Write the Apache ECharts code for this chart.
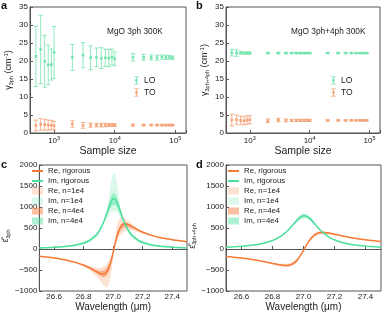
<!DOCTYPE html>
<html><head><meta charset="utf-8">
<script src="https://cdn.jsdelivr.net/npm/echarts@6/dist/echarts.min.js"></script>
<style>html,body{margin:0;padding:0;background:#fff}#c{width:388px;height:315px}</style>
</head><body><div id="c"></div>
<script>
// ---------- panels a, b : damping vs sample size ----------
const sampleSizes = [500,600,700,800,900,1000,2000,3000,4000,5000,6000,7000,8000,9000,10000,20000,30000,40000,50000,60000,70000,80000,90000];
const loMean3 = [21.3,23.2,19.9,18.9,19.0,22.4,21.0,21.6,20.9,21.0,20.8,20.9,20.8,21.1,20.6,21.0,21.0,21.0,20.9,21.1,21.0,21.0,20.9];
const loErr3  = [8.4,9.5,7.2,5.5,4.3,7.2,3.6,3.5,3.3,2.6,2.9,2.4,2.4,2.2,1.9,1.0,0.8,0.7,0.7,0.6,0.6,0.5,0.5];
const toMean3 = [2.1,2.4,2.3,2.2,2.2,2.0,2.5,2.1,2.2,2.2,2.2,2.2,2.2,2.2,2.2,2.2,2.2,2.2,2.2,2.2,2.2,2.2,2.2];
const toErr3  = [1.5,1.6,1.5,1.4,1.3,1.2,0.9,0.8,0.6,0.5,0.5,0.5,0.4,0.4,0.4,0.3,0.2,0.2,0.2,0.2,0.2,0.2,0.2];
const loMean34 = [22.3,22.2,22.3,22.2,22.2,22.2,22.2,22.2,22.2,22.2,22.2,22.2,22.2,22.2,22.2,22.2,22.2,22.2,22.2,22.2,22.2,22.2,22.2];
const loErr34  = [0.9,0.9,0.4,0.3,0.3,0.3,0.2,0.2,0.2,0.15,0.15,0.15,0.15,0.1,0.1,0.1,0.1,0.1,0.1,0.1,0.1,0.1,0.1];
const toMean34 = [3.6,3.7,3.5,3.4,3.6,3.7,3.4,3.6,3.5,3.5,3.5,3.5,3.5,3.5,3.5,3.5,3.5,3.5,3.5,3.5,3.5,3.5,3.5];
const toErr34  = [1.65,1.3,1.2,1.1,1.2,1.1,0.5,0.5,0.4,0.3,0.3,0.3,0.3,0.3,0.3,0.15,0.15,0.15,0.15,0.15,0.15,0.15,0.15];
const gammaTicks = [0,5,10,15,20,25,30,35];

// ---------- panels c, d : dielectric function vs wavelength ----------
const wavelength = [26.50,26.55,26.60,26.65,26.70,26.75,26.80,26.84,26.88,26.90,26.92,26.94,26.96,26.98,26.99,27.00,27.01,27.02,27.03,27.05,27.07,27.09,27.11,27.13,27.17,27.21,27.26,27.31,27.36,27.41,27.46,27.50];
const wlTicks = [26.6,26.8,27.0,27.2,27.4];
// panel c (3ph)
const reRig3 = [-174,-193,-215,-243,-278,-325,-388,-451,-529,-568,-595,-594,-529,-360,-231,-80,80,231,360,529,594,595,568,529,451,388,325,278,243,215,193,174];
const imRig3 = [26,32,40,51,69,96,142,205,318,405,525,685,882,1080,1154,1195,1195,1154,1080,882,685,525,405,318,205,142,96,69,51,40,32,26];
const re3Lo1 = [-177,-196,-219,-249,-288,-340,-415,-501,-624,-704,-795,-883,-915,-744,-514,-186,45,132,212,337,411,444,450,439,399,355,306,266,235,210,189,172];
const re3Hi1 = [-172,-189,-210,-235,-266,-306,-355,-399,-439,-450,-444,-411,-337,-212,-132,-45,170,450,640,770,760,710,650,590,485,410,338,287,248,219,196,177];
const im3Lo1 = [17,21,27,34,46,65,99,149,245,329,458,633,748,847,880,898,898,880,847,748,633,458,329,245,149,99,65,46,34,27,21,17];
const im3Hi1 = [34,42,52,66,87,120,173,242,351,428,523,666,996,1457,1679,1818,1818,1679,1457,996,666,523,428,351,242,173,120,87,66,52,42,34];
const re3Lo2 = [-175,-194,-216,-245,-282,-330,-397,-468,-559,-609,-653,-671,-622,-440,-286,-100,61,178,282,432,506,525,515,490,430,374,317,274,240,213,191,173];
const re3Hi2 = [-173,-191,-213,-240,-274,-317,-374,-430,-490,-515,-525,-506,-432,-282,-178,-61,95,270,410,580,635,630,595,550,463,395,329,281,245,216,194,175];
const im3Lo2 = [23,29,36,46,62,87,130,190,300,389,515,667,823,968,1019,1047,1047,1019,968,823,667,515,389,300,190,130,87,62,46,36,29,23];
const im3Hi2 = [29,36,45,58,77,107,156,223,336,420,529,692,926,1179,1279,1336,1336,1279,1179,926,692,529,420,336,223,156,107,77,58,45,36,29];
// panel d (3ph+4ph)
const reRig34 = [-178,-195,-215,-240,-269,-304,-344,-376,-395,-392,-373,-331,-260,-158,-97,-33,33,97,158,260,331,373,392,395,376,344,304,269,240,215,195,178];
const imRig34 = [42,51,64,81,106,143,202,273,379,447,526,611,693,757,778,789,789,778,757,693,611,526,447,379,273,202,143,106,81,64,51,42];
const re34Lo1 = [-179,-197,-218,-244,-275,-313,-359,-398,-427,-430,-417,-378,-302,-186,-115,-39,27,79,129,215,280,322,345,354,347,325,292,261,234,211,192,176];
const re34Hi1 = [-176,-192,-211,-234,-261,-292,-325,-347,-354,-345,-322,-280,-215,-129,-79,-27,39,115,186,302,378,417,430,427,398,359,313,275,244,218,197,179];
const im34Lo1 = [39,48,59,76,99,135,193,265,376,439,505,574,638,686,701,709,709,701,686,638,574,505,439,376,265,193,135,99,76,59,48,39];
const im34Hi1 = [46,56,70,88,114,153,212,281,378,451,540,639,738,820,846,860,860,846,820,738,639,540,451,378,281,212,153,114,88,70,56,46];
const re34Lo2 = [-178,-196,-216,-241,-272,-308,-351,-385,-409,-408,-391,-350,-277,-169,-105,-35,30,89,145,240,308,350,371,377,364,336,299,266,237,214,194,177];
const re34Hi2 = [-177,-194,-214,-237,-266,-299,-336,-364,-377,-371,-350,-308,-240,-145,-89,-30,35,105,169,277,350,391,408,409,385,351,308,272,241,216,196,178];
const im34Lo2 = [41,50,62,79,103,140,198,270,378,444,518,595,669,726,744,754,754,744,726,669,595,518,444,378,270,198,140,103,79,62,50,41];
const im34Hi2 = [44,53,66,84,109,147,206,277,379,449,532,623,712,784,807,819,819,807,784,712,623,532,449,379,277,206,147,109,84,66,53,44];

// ---------- styling ----------
const FONT = '"Liberation Sans", Arial, sans-serif';
const ORANGE = '#F47A36', GREEN = '#4BDF9C';
const RE_L = 'rgba(246,124,58,0.22)', RE_D = 'rgba(246,124,58,0.48)';
const IM_L = 'rgba(75,223,156,0.20)', IM_D = 'rgba(75,223,156,0.45)';
const LO_C = '#72E3AC', TO_C = '#F5A276';
const FRAME = '#555';
const EB_ICON = 'path://M0,0H6V1H0Z M2.5,1H3.5V9H2.5Z M0,9H6V10H0Z M1.5,3.5H4.5V6.5H1.5Z';
const BLANK_SYM = 'image://data:image/gif;base64,R0lGODlhAQABAIAAAAAAAP///yH5BAEAAAAALAAAAAABAAEAAAIBRAA7';
const TXT = '#222';

const chart = echarts.init(document.getElementById('c'), null, {renderer: 'canvas'});

function isPow10(v) { const l = Math.log10(v); return Math.abs(l - Math.round(l)) < 1e-6; }

function logAxis(gi) {
  return {
    type: 'log', logBase: 10, gridIndex: gi, min: 400, max: 150000,
    name: 'Sample size', nameLocation: 'middle', nameGap: 8,
    nameTextStyle: {fontSize: 10.5, color: TXT, fontFamily: FONT, verticalAlign: 'top'},
    axisLine: {show: true, lineStyle: {color: FRAME, width: 1}},
    axisTick: {show: true, inside: true, length: 3, lineStyle: {color: FRAME}},
    minorTick: {show: false},
    splitLine: {show: false},
    axisLabel: {
      margin: 2, color: TXT, fontSize: 8, fontFamily: FONT,
      formatter: v => isPow10(v) ? '10{s|' + Math.round(Math.log10(v)) + '}' : '',
      rich: {s: {fontSize: 5.5, padding: [0, 0, 5, 0], fontFamily: FONT, color: TXT}}
    }
  };
}
function gammaAxis(gi, sub) {
  return {
    type: 'value', gridIndex: gi, min: 0, max: 35, interval: 5,
    name: '{g|γ}{s|' + sub + '} (cm{u|-1})', nameLocation: 'middle', nameGap: 16, nameRotate: 90,
    nameTextStyle: {fontSize: 9, color: TXT, fontFamily: FONT,
      rich: {g: {fontSize: 9, fontFamily: FONT, color: TXT},
             s: {fontSize: 5.5, padding: [5, 0, 0, 0], fontFamily: FONT, color: TXT},
             u: {fontSize: 6, padding: [0, 0, 5, 0], fontFamily: FONT, color: TXT}}},
    axisLine: {show: true, lineStyle: {color: FRAME, width: 1}},
    axisTick: {show: true, inside: true, length: 3, lineStyle: {color: FRAME}},
    splitLine: {show: false},
    axisLabel: {margin: 2, color: TXT, fontSize: 8, fontFamily: FONT, customValues: gammaTicks}
  };
}
function wlAxis(gi) {
  return {
    type: 'value', gridIndex: gi, min: 26.5, max: 27.5,
    name: 'Wavelength (μm)', nameLocation: 'middle', nameGap: 7,
    nameTextStyle: {fontSize: 10, color: TXT, fontFamily: FONT, verticalAlign: 'top'},
    axisLine: {show: true, lineStyle: {color: FRAME, width: 1}},
    axisTick: {show: true, inside: true, length: 3, lineStyle: {color: FRAME}, customValues: wlTicks},
    splitLine: {show: false},
    axisLabel: {margin: 2, color: TXT, fontSize: 8, fontFamily: FONT,
      customValues: wlTicks, formatter: v => v.toFixed(1)}
  };
}
function epsAxis(gi, sub, pad) {
  return {
    type: 'value', gridIndex: gi, min: -1000, max: 2000, interval: 500,
    name: '{e|ε̂}{s|' + sub + '}', nameLocation: 'middle', nameGap: 22, nameRotate: 90,
    nameTextStyle: {fontSize: 9, color: TXT, fontFamily: FONT, padding: [0, pad, 0, 0],
      rich: {e: {fontSize: 9, fontFamily: FONT, color: TXT},
             s: {fontSize: 5.5, padding: [5, 0, 0, 0], fontFamily: FONT, color: TXT}}},
    axisLine: {show: true, lineStyle: {color: FRAME, width: 1}},
    axisTick: {show: true, inside: true, length: 3, lineStyle: {color: FRAME}},
    splitLine: {show: false},
    axisLabel: {margin: 2, color: TXT, fontSize: 8, fontFamily: FONT,
      formatter: v => v < 0 ? '\u2212' + (-v) : String(v)}
  };
}

function errSeries(name, gi, mean, err, color) {
  return {
    type: 'custom', name: name, xAxisIndex: gi, yAxisIndex: gi,
    itemStyle: {color: color},
    data: sampleSizes.map((s, i) => [s, mean[i], mean[i] - err[i], mean[i] + err[i]]),
    encode: {x: 0, y: [1, 2, 3]},
    renderItem: function (params, api) {
      const x = api.value(0), m = api.value(1), lo = api.value(2), hi = api.value(3);
      const pm = api.coord([x, m]), pl = api.coord([x, lo]), ph = api.coord([x, hi]);
      const cw = 2.2;
      const st = {stroke: color, lineWidth: 0.8, fill: null};
      return {type: 'group', children: [
        {type: 'line', shape: {x1: pl[0], y1: pl[1], x2: ph[0], y2: ph[1]}, style: st},
        {type: 'line', shape: {x1: pl[0] - cw, y1: pl[1], x2: pl[0] + cw, y2: pl[1]}, style: st},
        {type: 'line', shape: {x1: ph[0] - cw, y1: ph[1], x2: ph[0] + cw, y2: ph[1]}, style: st},
        {type: 'rect', shape: {x: pm[0] - 1.3, y: pm[1] - 1.3, width: 2.6, height: 2.6}, style: {fill: color}}
      ]};
    }
  };
}
function bandSeries(name, gi, lo, hi, color) {
  return {
    type: 'custom', name: name, xAxisIndex: gi, yAxisIndex: gi, silent: true,
    itemStyle: {color: color},
    data: wavelength.map((x, i) => [x, lo[i], hi[i]]),
    encode: {x: 0, y: [1, 2]},
    renderItem: function (params, api) {
      if (params.dataIndex !== 0) return null;
      const pts = [];
      for (let i = 0; i < wavelength.length; i++) pts.push(api.coord([wavelength[i], hi[i]]));
      for (let i = wavelength.length - 1; i >= 0; i--) pts.push(api.coord([wavelength[i], lo[i]]));
      return {type: 'polygon', shape: {points: pts}, style: {fill: color, stroke: null}};
    }
  };
}
function lineSeries(name, gi, vals, color) {
  return {
    type: 'line', name: name, xAxisIndex: gi, yAxisIndex: gi,
    data: wavelength.map((x, i) => [x, vals[i]]),
    showSymbol: false, symbol: BLANK_SYM, symbolSize: 1, smooth: 0.25,
    lineStyle: {color: color, width: 1.5}, itemStyle: {color: color}
  };
}

const legendTxt = {fontSize: 7.8, color: TXT, fontFamily: FONT, lineHeight: 8};
const epsLegendData = [
  {name: 'Re, rigorous'}, {name: 'Im, rigorous'},
  {name: 'Re, n=1e4', icon: 'rect'}, {name: 'Im, n=1e4', icon: 'rect'},
  {name: 'Re, n=4e4', icon: 'rect'}, {name: 'Im, n=4e4', icon: 'rect'}
];
const gamLegendData = [{name: 'LO', icon: EB_ICON}, {name: 'TO', icon: EB_ICON}];

const gridBase = {show: true, borderColor: FRAME, borderWidth: 1, backgroundColor: 'transparent'};

const option = {
  animation: false,
  backgroundColor: '#fff',
  textStyle: {fontFamily: FONT},
  grid: [
    Object.assign({left: 30, top: 7, width: 156, height: 126}, gridBase),
    Object.assign({left: 226, top: 7, width: 154, height: 126}, gridBase),
    Object.assign({left: 30, top: 165, width: 157, height: 126}, gridBase),
    Object.assign({left: 226, top: 165, width: 155, height: 126}, gridBase)
  ],
  xAxis: [logAxis(0), logAxis(1), wlAxis(2), wlAxis(3)],
  yAxis: [gammaAxis(0, '3ph'), gammaAxis(1, '3ph+4ph'), epsAxis(2, '3ph', 16), epsAxis(3, '3ph+4ph', 16)],
  legend: [
    {orient: 'vertical', left: 129, top: 71, itemWidth: 5, itemHeight: 8, itemGap: 3,
     textStyle: {fontSize: 8.5, color: TXT, fontFamily: FONT}, data: gamLegendData, selectedMode: false},
    {orient: 'vertical', left: 326, top: 71, itemWidth: 5, itemHeight: 8, itemGap: 3,
     textStyle: {fontSize: 8.5, color: TXT, fontFamily: FONT}, data: gamLegendData, selectedMode: false},
    {orient: 'vertical', left: 31, top: 167, itemWidth: 11, itemHeight: 7, itemGap: 2, padding: 0,
     textStyle: legendTxt, data: epsLegendData, selectedMode: false},
    {orient: 'vertical', left: 227, top: 167, itemWidth: 11, itemHeight: 7, itemGap: 2, padding: 0,
     textStyle: legendTxt, data: epsLegendData, selectedMode: false}
  ],
  graphic: [
    {type: 'text', left: 1, top: 0, style: {text: 'a', fill: '#111', font: 'bold 11px ' + FONT}},
    {type: 'text', left: 196, top: 0, style: {text: 'b', fill: '#111', font: 'bold 11px ' + FONT}},
    {type: 'text', left: 1, top: 159, style: {text: 'c', fill: '#111', font: 'bold 11px ' + FONT}},
    {type: 'text', left: 196, top: 159, style: {text: 'd', fill: '#111', font: 'bold 11px ' + FONT}},
    {type: 'text', left: 107, top: 28, style: {text: 'MgO 3ph 300K', fill: TXT, font: '8.3px ' + FONT}},
    {type: 'text', left: 291, top: 28, style: {text: 'MgO 3ph+4ph 300K', fill: TXT, font: '8.3px ' + FONT}}
  ],
  series: [
    errSeries('LO', 0, loMean3, loErr3, LO_C),
    errSeries('TO', 0, toMean3, toErr3, TO_C),
    errSeries('LO', 1, loMean34, loErr34, LO_C),
    errSeries('TO', 1, toMean34, toErr34, TO_C),

    bandSeries('Re, n=1e4', 2, re3Lo1, re3Hi1, RE_L),
    bandSeries('Im, n=1e4', 2, im3Lo1, im3Hi1, IM_L),
    bandSeries('Re, n=4e4', 2, re3Lo2, re3Hi2, RE_D),
    bandSeries('Im, n=4e4', 2, im3Lo2, im3Hi2, IM_D),
    lineSeries('Re, rigorous', 2, reRig3, ORANGE),
    lineSeries('Im, rigorous', 2, imRig3, GREEN),

    bandSeries('Re, n=1e4', 3, re34Lo1, re34Hi1, RE_L),
    bandSeries('Im, n=1e4', 3, im34Lo1, im34Hi1, IM_L),
    bandSeries('Re, n=4e4', 3, re34Lo2, re34Hi2, RE_D),
    bandSeries('Im, n=4e4', 3, im34Lo2, im34Hi2, IM_D),
    lineSeries('Re, rigorous', 3, reRig34, ORANGE),
    lineSeries('Im, rigorous', 3, imRig34, GREEN)
  ]
};
chart.setOption(option);
</script>
</body></html>
